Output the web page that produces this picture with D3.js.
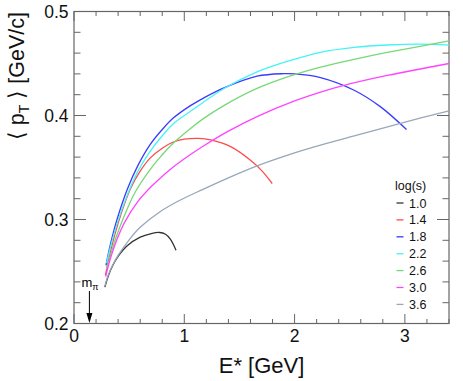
<!DOCTYPE html>
<html>
<head>
<meta charset="utf-8">
<script src="https://cdn.jsdelivr.net/npm/d3@7"></script>
<style>
  html, body { margin: 0; padding: 0; background: #fff; }
  svg { display: block; font-family: "Liberation Sans", Arial, Helvetica, sans-serif; }
</style>
</head>
<body>
<svg id="chart" width="463" height="381"></svg>
<script>
// ---- data (E* [GeV], <pT> [GeV/c]) ----
const logS10 = [[0.28,0.235],[0.31,0.2455],[0.35,0.2555],[0.40,0.2645],[0.48,0.2745],[0.60,0.2830],[0.70,0.2865],[0.775,0.2875],[0.83,0.2858],[0.875,0.2810],[0.925,0.2705]];
const logS14 = [[0.285,0.2465],[0.32,0.264],[0.37,0.2855],[0.43,0.3065],[0.514,0.330],[0.60,0.3465],[0.69,0.3590],[0.80,0.3685],[0.90,0.3745],[1.00,0.3772],[1.13,0.3780],[1.24,0.3765],[1.42,0.3700],[1.60,0.3570],[1.70,0.3472],[1.797,0.3346]];
const logS18 = [[0.29,0.256],[0.33,0.276],[0.39,0.300],[0.487,0.330],[0.58,0.352],[0.69,0.372],[0.80,0.3865],[0.90,0.3975],[1.056,0.4095],[1.17,0.4165],[1.36,0.4265],[1.66,0.4378],[1.90,0.4402],[2.00,0.4400],[2.235,0.4365],[2.54,0.4243],[2.78,0.4083],[3.015,0.3865]];
const logS22 = [[0.295,0.258],[0.335,0.2755],[0.395,0.2975],[0.487,0.3245],[0.58,0.3465],[0.69,0.3655],[0.80,0.3805],[0.90,0.3920],[1.056,0.4040],[1.17,0.4125],[1.36,0.4260],[1.66,0.4420],[1.963,0.4530],[2.235,0.4608],[2.54,0.4655],[2.84,0.4678],[3.14,0.4686],[3.40,0.4677]];
const logS26 = [[0.296,0.252],[0.33,0.2655],[0.38,0.2825],[0.45,0.302],[0.553,0.326],[0.69,0.348],[0.786,0.3605],[0.871,0.3705],[1.056,0.3875],[1.173,0.3970],[1.358,0.4095],[1.66,0.4260],[1.963,0.4380],[2.235,0.4465],[2.54,0.4540],[2.84,0.4606],[3.40,0.4717]];
const logS30 = [[0.287,0.245],[0.33,0.2625],[0.39,0.281],[0.46,0.2975],[0.58,0.3175],[0.713,0.3330],[0.80,0.3415],[0.90,0.3505],[1.056,0.3625],[1.17,0.3705],[1.40,0.3850],[1.66,0.3990],[2.00,0.4140],[2.235,0.4225],[2.43,0.4285],[2.84,0.4385],[3.40,0.4500]];
const logS36 = [[0.28,0.236],[0.31,0.2465],[0.35,0.256],[0.40,0.2655],[0.50,0.2805],[0.60,0.2925],[0.78,0.3075],[0.96,0.3185],[1.17,0.3290],[1.40,0.3400],[1.66,0.3515],[2.00,0.3640],[2.235,0.3715],[2.60,0.3820],[2.96,0.3925],[3.40,0.4045]];

const seriesList = [logS10, logS14, logS18, logS22, logS26, logS30, logS36];
const legendLabels = ["1.0", "1.4", "1.8", "2.2", "2.6", "3.0", "3.6"];
const legendTitle = "log(s)";
const xTickValues = [0, 1, 2, 3];
const yTickValues = [0.2, 0.3, 0.4, 0.5];
const mPi = 0.1396;

// ---- styles ----
const colors = ["#333333", "#ff4a4a", "#3a3aff", "#44f4f4", "#77d877", "#ff44ff", "#98a8b8"];
const axisColor = "#666";

const svg = d3.select("#chart");
const L = 74, R = 449, T = 11.5, B = 323.5;
const x = d3.scaleLinear().domain([0, 3.4]).range([L, R]);
const y = d3.scaleLinear().domain([0.2, 0.5]).range([B, T]);

// ticks
const xMinor = d3.range(0, 3.4001, 0.2).map(v => +v.toFixed(2));
const yMinor = d3.range(0.2, 0.5001, 0.02).map(v => +v.toFixed(3));
const isMajorX = v => Math.abs(v - Math.round(v)) < 1e-6;
const isMajorY = v => Math.abs(v * 10 - Math.round(v * 10)) < 1e-6;

const g = svg.append("g");
xMinor.forEach(v => {
  const len = isMajorX(v) ? 9.5 : 4.5;
  g.append("line").attr("x1", x(v)).attr("x2", x(v)).attr("y1", B).attr("y2", B - len)
    .attr("stroke", axisColor).attr("stroke-width", 1);
  g.append("line").attr("x1", x(v)).attr("x2", x(v)).attr("y1", T).attr("y2", T + len)
    .attr("stroke", axisColor).attr("stroke-width", 1);
});
yMinor.forEach(v => {
  const len = isMajorY(v) ? 12 : 6.5;
  g.append("line").attr("x1", L).attr("x2", L + len).attr("y1", y(v)).attr("y2", y(v))
    .attr("stroke", axisColor).attr("stroke-width", 1);
  g.append("line").attr("x1", R).attr("x2", R - len).attr("y1", y(v)).attr("y2", y(v))
    .attr("stroke", axisColor).attr("stroke-width", 1);
});

// frame
svg.append("rect").attr("x", L).attr("y", T).attr("width", R - L).attr("height", B - T)
  .attr("fill", "none").attr("stroke", axisColor).attr("stroke-width", 1.2);

// tick labels
svg.selectAll(".xl").data(xTickValues).enter().append("text")
  .attr("x", d => x(d)).attr("y", 342).attr("text-anchor", "middle")
  .attr("font-size", 17.5).attr("fill", "#111").text(d => d3.format("d")(d));
svg.selectAll(".yl").data(yTickValues).enter().append("text")
  .attr("x", 68.5).attr("y", d => y(d) + 6.5).attr("text-anchor", "end")
  .attr("font-size", 17.5).attr("fill", "#111").text(d => d3.format(".1f")(d));

// axis titles
svg.append("text").attr("x", (L + R) / 2).attr("y", 373).attr("text-anchor", "middle")
  .attr("font-size", 22).attr("fill", "#111").text("E* [GeV]");
const yt = svg.append("text").attr("transform", "translate(23.5,12) rotate(-90)")
  .attr("text-anchor", "end").attr("font-size", 21.5).attr("fill", "#111");
yt.append("tspan").text("\u27E8 p");
yt.append("tspan").attr("font-size", 14).attr("dy", 5).text("T");
yt.append("tspan").attr("dy", -5).text(" \u27E9 [GeV/c]");

// curves
const line = d3.line().x(d => x(d[0])).y(d => y(d[1])).curve(d3.curveCatmullRom.alpha(0.5));
const plot = svg.append("g");
seriesList.forEach((s, i) => {
  plot.append("path").attr("d", line(s)).attr("fill", "none")
    .attr("stroke", colors[i]).attr("stroke-width", 1.3);
});

// m_pi marker
const mx = x(mPi);
svg.append("line").attr("x1", mx).attr("x2", mx).attr("y1", 291).attr("y2", 314)
  .attr("stroke", "#000").attr("stroke-width", 1);
svg.append("path").attr("d", `M${mx - 3},${313} L${mx + 3},${313} L${mx},${323} Z`).attr("fill", "#000");
const mt = svg.append("text").attr("x", 81.5).attr("y", 287).attr("font-size", 13).attr("fill", "#000");
mt.append("tspan").text("m");
mt.append("tspan").attr("font-size", 9).attr("dy", 2.5).text("\u03C0");

// legend
svg.append("text").attr("x", 395).attr("y", 189.5).attr("font-size", 12.5).attr("fill", "#111").text(legendTitle);
legendLabels.forEach((lab, i) => {
  const cy = 203 + i * 16.9;
  svg.append("line").attr("x1", 396.5).attr("x2", 403.5).attr("y1", cy).attr("y2", cy)
    .attr("stroke", colors[i]).attr("stroke-width", 1.3);
  svg.append("text").attr("x", 409).attr("y", cy + 4.5).attr("font-size", 12.5).attr("fill", "#111").text(lab);
});
</script>
</body>
</html>
